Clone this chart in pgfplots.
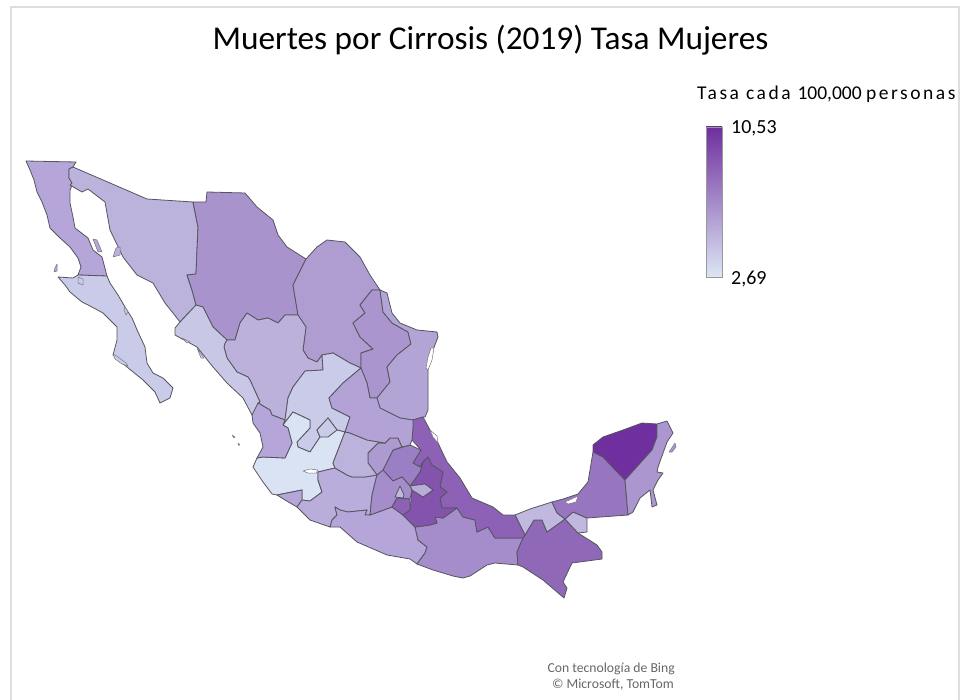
\documentclass[border=0pt]{standalone}
\usepackage{fontspec}
\setmainfont{Carlito}
\usepackage{pgfplots}
\pgfplotsset{compat=1.18}
\definecolor{mapline}{HTML}{55555F}
\newcommand\defc[1]{\definecolor{c#1}{HTML}{#1}}
\defc{B5A5D8}\defc{C9CBE8}\defc{BCB3DD}\defc{A993CD}\defc{AF9DD2}\defc{AB95CE}\defc{B3A4D6}\defc{BBB1DB}\defc{C8C8E6}\defc{D9E3F3}\defc{B9ADDB}\defc{A58CCB}\defc{8F68B8}\defc{C0B8DF}\defc{9775BF}\defc{6F2F9E}\defc{AB96D0}\defc{8D62B6}\defc{8453AE}\defc{B8ADD9}\defc{9A7FC4}\defc{8D62B5}\defc{AD9AD1}\defc{B3A2D6}\defc{DCE6F5}\defc{FFFFFF}
\newcommand\st[2]{\addplot[fill=c#1,draw=mapline,line width=0.8pt,line join=round,forget plot] coordinates {#2} --cycle;}
\newcommand\hl[2]{\addplot[fill=c#1,draw=mapline!80,line width=0.5pt,line join=round,forget plot] coordinates {#2} --cycle;}
\begin{document}
\begin{tikzpicture}[x=1pt,y=1pt]
\useasboundingbox (0,0) rectangle (960,700);
\begin{axis}[at={(0,0)},anchor=south west,width=960pt,height=700pt,scale only axis,hide axis,
 xmin=0,xmax=960,ymin=0,ymax=700,y dir=reverse,clip=false]
% frame
\addplot[draw=black!13,line width=2pt,forget plot] coordinates {(11,700) (11,7) (959,7) (959,700)};
% Baja California
\st{B5A5D8}{(26,161) (76,162) (73,167) (69,169) (69,178) (73,183) (70,190) (70,203) (73,217) (75,228) (88,238) (93,250) (102,257) (107,276) (78,275) (81,267) (78,258) (70,247) (60,238) (50,228) (47,215) (42,202) (37,192) (34,180) (30,170)}
% BCS
\st{C9CBE8}{(58,277) (73,278) (78,275) (107,276) (110,283) (118,295) (125,307) (132,318) (138,332) (145,347) (147,363) (153,373) (163,378) (173,388) (170,398) (160,403) (155,392) (143,380) (127,367) (113,355) (117,340) (117,327) (103,313) (90,306) (82,302) (70,292) (65,285)}
% Sonora
\st{BCB3DD}{(69,169) (73,167) (147,199) (193,202) (198,227) (196,274) (187,275) (192,290) (196,305) (180,322) (173,313) (165,303) (153,283) (137,275) (123,257) (110,230) (105,202) (88,189) (82,192) (70,185) (72,183) (69,178)}
% Chihuahua
\st{A993CD}{(193,202) (206,202) (207,192) (245,193) (257,207) (273,220) (278,235) (287,247) (306,259) (293,285) (298,315) (285,315) (278,323) (268,318) (258,320) (247,313) (240,323) (235,340) (227,340) (213,327) (203,307) (196,305) (192,290) (187,275) (196,274) (198,227)}
% Coahuila
\st{AF9DD2}{(306,259) (317,247) (327,240) (345,242) (360,257) (370,275) (380,290) (372,290) (360,305) (365,313) (353,323) (360,337) (373,349) (361,353) (361,368) (350,363) (333,353) (322,355) (317,362) (308,358) (303,350) (306,327) (298,315) (293,285)}
% Nuevo Leon
\st{AB95CE}{(372,290) (380,290) (383,312) (392,323) (408,332) (411,344) (397,355) (387,367) (390,382) (377,398) (370,398) (367,383) (361,368) (361,353) (373,349) (360,337) (353,323) (365,313) (360,305)}
% Tamaulipas
\st{B3A4D6}{(380,290) (387,293) (392,313) (400,323) (417,330) (437,332) (438,337) (433,350) (428,367) (428,410) (425,417) (423,417) (413,420) (400,418) (380,408) (377,398) (390,382) (387,367) (397,355) (411,344) (408,332) (392,323) (383,312)}
% Durango
\st{BBB1DB}{(225,343) (227,340) (235,340) (240,323) (247,313) (258,320) (268,318) (278,323) (285,315) (298,315) (306,327) (303,350) (308,358) (317,362) (322,355) (323,370) (305,371) (293,387) (288,398) (285,420) (272,415) (270,410) (258,403) (260,402) (250,380) (248,377) (237,372) (227,358) (224,347)}
% Sinaloa
\st{C8C8E6}{(175,328) (180,322) (196,305) (203,307) (213,327) (227,340) (225,343) (224,347) (227,358) (237,372) (248,377) (250,380) (260,402) (258,403) (257,412) (252,415) (243,398) (227,383) (213,367) (197,347) (175,335)}
% Zacatecas
\st{C9CBE8}{(285,420) (288,398) (293,387) (305,371) (323,370) (322,355) (333,353) (350,363) (361,368) (343,383) (329,398) (332,408) (350,417) (345,432) (337,430) (328,418) (317,430) (320,437) (310,452) (298,447) (297,442) (310,428) (310,420) (293,412) (283,425)}
% Jalisco
\st{D9E3F3}{(253,467) (257,458) (263,457) (285,458) (292,443) (288,428) (283,425) (293,412) (310,420) (310,428) (297,442) (298,447) (310,452) (320,437) (337,430) (345,432) (333,463) (335,468) (318,472) (318,480) (322,492) (310,501) (302,500) (302,490) (277,495) (272,494) (263,482)}
% Aguascalientes
\st{C9CBE8}{(317,430) (328,418) (337,430) (328,437) (320,437)}
% Nayarit
\st{B5A5D8}{(252,415) (258,403) (270,410) (272,415) (285,420) (283,425) (288,428) (292,443) (285,458) (263,457) (257,458) (263,447) (260,433) (253,423)}
% Colima
\st{B5A5D8}{(277,495) (302,490) (302,500) (297,507) (285,500)}
% Michoacan
\st{B9ADDB}{(297,507) (302,500) (310,501) (322,492) (318,480) (318,472) (335,468) (347,475) (352,477) (365,477) (377,475) (372,495) (370,515) (365,515) (367,510) (348,512) (340,510) (335,507) (337,515) (332,520) (330,527) (310,520)}
% Guerrero
\st{B5A5D8}{(330,527) (332,520) (337,515) (335,507) (340,510) (348,512) (367,510) (365,515) (370,515) (392,507) (403,515) (415,527) (418,540) (427,547) (425,553) (417,564) (410,559) (387,555) (357,542) (340,527)}
% Oaxaca
\st{A58CCB}{(415,527) (430,525) (437,523) (435,517) (443,518) (457,508) (463,517) (475,520) (477,532) (488,527) (495,538) (523,538) (517,552) (518,565) (495,563) (487,565) (470,576) (463,578) (453,576) (433,570) (417,564) (425,553) (427,547) (418,540)}
% Chiapas
\st{8F68B8}{(523,538) (525,535) (534,520) (542,520) (547,532) (565,519) (578,533) (597,545) (602,552) (602,559) (572,563) (563,582) (567,588) (564,598) (543,580) (523,567) (518,565) (517,552)}
% Tabasco
\st{C0B8DF}{(515,515) (530,509) (552,502) (557,513) (565,519) (547,532) (542,520) (534,520) (525,535) (520,525)}
\st{C0B8DF}{(565,519) (573,512) (587,518) (587,532) (578,533)}
% Campeche
\st{9775BF}{(552,502) (563,499) (578,494) (588,482) (590,470) (593,452) (603,457) (625,480) (628,515) (587,518) (573,512) (565,519) (557,513)}
\hl{FFFFFF}{(565,502) (578,496) (576,502) (568,504)}
% Yucatan
\st{6F2F9E}{(593,445) (603,437) (623,430) (642,423) (657,424) (657,437) (652,450) (625,480) (603,457) (593,452)}
% Quintana Roo
\st{AB96D0}{(657,424) (667,421) (673,433) (667,442) (658,467) (657,472) (663,473) (658,480) (653,490) (657,505) (652,507) (650,490) (640,498) (633,512) (628,515) (625,480) (652,450) (657,437)}
\hl{AB96D0}{(669,452) (675,443) (676,447) (672,452)}
% Veracruz
\st{8D62B6}{(413,420) (423,417) (430,430) (438,443) (447,462) (460,478) (472,498) (493,507) (503,515) (515,515) (520,525) (525,535) (523,538) (495,538) (488,527) (477,532) (475,520) (463,517) (457,508) (442,508) (440,498) (447,492) (440,487) (443,472) (432,465) (428,457) (423,462) (420,467) (413,463) (421,450) (412,440) (413,427)}
% Puebla
\st{8453AE}{(428,457) (432,465) (443,472) (440,487) (447,492) (440,498) (442,508) (457,508) (443,518) (435,517) (437,523) (430,525) (415,527) (403,515) (410,510) (412,490) (423,497) (433,490) (425,484) (410,486) (420,472) (423,462)}
% Tlaxcala
\st{B8ADD9}{(410,486) (425,484) (433,490) (423,497) (412,490)}
% Hidalgo
\st{9A7FC4}{(383,470) (393,450) (410,445) (421,450) (413,463) (420,467) (423,462) (420,472) (410,486) (402,477) (393,481)}
% Edomex
\st{A58CCB}{(370,515) (372,495) (377,475) (383,470) (393,481) (402,477) (410,486) (412,490) (410,499) (397,498) (392,507)}
% Morelos
\st{8D62B5}{(392,507) (397,498) (410,499) (410,510) (403,515)}
% CDMX
\st{C0B8DF}{(395,497) (400,486) (404,495) (403,498)}
% Queretaro
\st{AD9AD1}{(368,453) (378,443) (385,443) (390,438) (398,438) (402,447) (393,450) (383,470) (377,475) (368,463)}
% Guanajuato
\st{BCB3DD}{(335,468) (333,463) (345,432) (350,433) (367,440) (385,443) (378,443) (368,453) (368,463) (377,475) (365,477) (352,477) (347,475)}
% SLP
\st{B3A2D6}{(361,368) (367,383) (370,398) (377,398) (380,408) (400,418) (413,420) (413,427) (412,440) (410,445) (402,447) (398,438) (390,438) (385,443) (367,440) (350,433) (345,432) (350,417) (332,408) (329,398) (343,383)}
% Lakes, lagoons, islands
\hl{FFFFFF}{(303,471) (310,469) (318,470) (316,473) (308,473)}
\hl{FFFFFF}{(431,348) (434,348) (432,360) (428,370) (426,368) (428,357)}
\hl{FFFFFF}{(430,430) (437,436) (438,443) (433,437)}
\hl{B5A5D8}{(93,239) (97,240) (102,252) (98,252)}
\hl{BCB3DD}{(113,257) (116,248) (120,247) (120,255)}
\hl{B5A5D8}{(55,268) (57,264) (57,271) (54,272)}
\hl{C9CBE8}{(125,307) (128,312) (126,315) (124,310)}
\hl{C9CBE8}{(78,277) (83,279) (83,285) (78,283)}
\hl{C9CBE8}{(113,354) (118,357) (126,363) (128,366) (122,364) (115,359)}
\hl{C8C8E6}{(182,338) (190,342) (187,343)}
\hl{C8C8E6}{(197,348) (204,358) (201,358)}
\hl{B5A5D8}{(232,435) (235,437) (234,438)}
\hl{B5A5D8}{(238,443) (240,445) (238,445)}
% colour scale
\shade[top color=c6F2F9E,middle color=cA58CCB,bottom color=cDCE6F5] (axis cs:706,127) rectangle (axis cs:722,277);
\draw[draw=black!40,line width=0.7pt] (axis cs:706,127) rectangle (axis cs:722,277);
% text
\node[font=\fontsize{33.3}{33.3}\selectfont,anchor=center] at (axis cs:490.5,40) {Muertes por Cirrosis (2019) Tasa Mujeres};
\node[font=\fontsize{19.5}{19.5}\selectfont,anchor=west,inner sep=0pt] at (axis cs:697,94) {\addfontfeatures{LetterSpace=13}Tasa cada \addfontfeatures{LetterSpace=0}100,000 \addfontfeatures{LetterSpace=13}personas};
\node[font=\fontsize{20}{20}\selectfont,anchor=west,inner sep=0pt] at (axis cs:731,128) {10,53};
\node[font=\fontsize{20}{20}\selectfont,anchor=west,inner sep=0pt] at (axis cs:731,279) {2,69};
\node[font=\fontsize{13.7}{13.7}\selectfont,anchor=east,inner sep=0pt,text=black!60] at (axis cs:675,669) {Con tecnología de Bing};
\node[font=\fontsize{13.7}{13.7}\selectfont,anchor=east,inner sep=0pt,text=black!60] at (axis cs:674,685) {© Microsoft, TomTom};
\end{axis}
\end{tikzpicture}
\end{document}
